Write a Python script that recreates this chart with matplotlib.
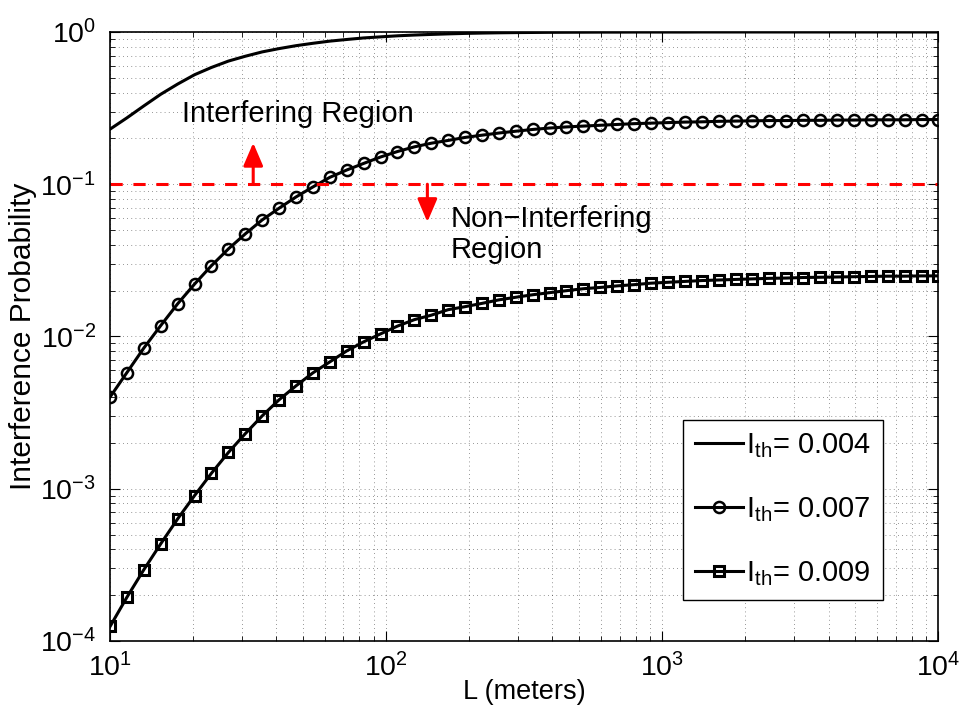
import matplotlib
matplotlib.use("Agg")
import matplotlib.pyplot as plt
import numpy as np

plt.rcParams['font.family'] = ['Liberation Sans', 'DejaVu Sans']
plt.rcParams['mathtext.fontset'] = 'custom'
plt.rcParams['mathtext.rm'] = 'Liberation Sans'
plt.rcParams['mathtext.it'] = 'Liberation Sans'

# L values (meters), 50 log-spaced points
L = np.logspace(1, 4, 50)

# I_th = 0.004
p_004 = [0.230, 0.273, 0.327, 0.390, 0.455, 0.524, 0.585, 0.644, 0.693, 0.740,
         0.778, 0.813, 0.843, 0.871, 0.893, 0.914, 0.929, 0.944, 0.955, 0.964,
         0.972, 0.979, 0.984, 0.988, 0.991, 0.993, 0.995, 0.996, 0.997, 0.998,
         0.998, 0.999, 0.999, 0.999, 0.999, 1.0, 1.0, 1.0, 1.0, 1.0,
         1.0, 1.0, 1.0, 1.0, 1.0, 1.0, 1.0, 1.0, 1.0, 1.0]
# I_th = 0.007
p_007 = [4.0e-3, 5.8e-3, 8.4e-3, 1.18e-2, 1.64e-2, 2.21e-2, 2.92e-2, 3.76e-2, 4.72e-2, 5.83e-2,
         6.96e-2, 8.25e-2, 9.6e-2, 0.111, 0.124, 0.137, 0.151, 0.164, 0.176, 0.186,
         0.194, 0.203, 0.210, 0.217, 0.223, 0.229, 0.234, 0.238, 0.241, 0.244,
         0.247, 0.250, 0.252, 0.254, 0.256, 0.257, 0.259, 0.260, 0.261, 0.262,
         0.262, 0.263, 0.263, 0.264, 0.264, 0.265, 0.265, 0.265, 0.266, 0.266]
# I_th = 0.009
p_009 = [1.245e-4, 1.94e-4, 2.94e-4, 4.35e-4, 6.34e-4, 9.02e-4, 1.265e-3, 1.73e-3, 2.30e-3, 3.01e-3,
         3.84e-3, 4.74e-3, 5.77e-3, 6.81e-3, 8.04e-3, 9.22e-3, 1.04e-2, 1.17e-2, 1.29e-2, 1.38e-2,
         1.50e-2, 1.57e-2, 1.65e-2, 1.74e-2, 1.81e-2, 1.88e-2, 1.94e-2, 2.00e-2, 2.06e-2, 2.10e-2,
         2.15e-2, 2.19e-2, 2.24e-2, 2.27e-2, 2.30e-2, 2.33e-2, 2.35e-2, 2.37e-2, 2.39e-2, 2.41e-2,
         2.42e-2, 2.44e-2, 2.45e-2, 2.46e-2, 2.47e-2, 2.48e-2, 2.49e-2, 2.49e-2, 2.50e-2, 2.50e-2]

threshold = 0.1

fig = plt.figure(figsize=(9.61, 7.19), dpi=100)
ax = fig.add_axes([0.1145, 0.1085, 0.862, 0.847])

ax.loglog(L, p_004, 'k-', lw=2.2, label=r'I$_{\rm th}$= 0.004')
ax.loglog(L, p_007, 'k-o', lw=2.2, ms=8, mfc='none', mew=1.8, label=r'I$_{\rm th}$= 0.007')
ax.loglog(L, p_009, 'k-s', lw=2.2, ms=6.5, mfc='none', mew=2.2, label=r'I$_{\rm th}$= 0.009')
ax.axhline(threshold, color='red', lw=2.2, ls=(0, (4, 3.5)))

ax.annotate('', xy=(33, 0.187), xytext=(33, threshold),
            arrowprops=dict(arrowstyle='-|>,head_width=0.3,head_length=0.7',
                            color='red', lw=2.2, mutation_scale=20, shrinkA=0, shrinkB=0))
ax.annotate('', xy=(141, 0.0565), xytext=(141, threshold),
            arrowprops=dict(arrowstyle='-|>,head_width=0.3,head_length=0.7',
                            color='red', lw=2.2, mutation_scale=20, shrinkA=0, shrinkB=0))
ax.text(18.2, 0.2576, 'Interfering Region', fontsize=21, va='baseline', ha='left')
ax.text(170.6, 0.0735, 'Non\u2212Interfering\nRegion', fontsize=21, va='top', ha='left',
        linespacing=1.15)

ax.set_xlim(10, 1e4)
ax.set_ylim(1e-4, 1)
ax.grid(True, which='both', color='black', ls=(0, (1, 4)), lw=0.6, alpha=0.55)
ax.tick_params(which='both', direction='in', top=True, right=True, labelsize=20.5)
ax.tick_params(axis='x', which='major', pad=9)
ax.tick_params(axis='y', which='major', pad=10)
ax.tick_params(which='major', length=7)
ax.tick_params(which='minor', length=3.5)
for s in ax.spines.values():
    s.set_linewidth(1.2)

ax.set_xlabel('L (meters)', fontsize=19.5, labelpad=-3)
ax.set_ylabel('Interference Probability', fontsize=21.5, labelpad=2)

leg = ax.legend(loc='lower right', bbox_to_anchor=(0.933, 0.068), fontsize=21,
                fancybox=False, edgecolor='black', framealpha=1, handlelength=1.65,
                handletextpad=0.1, labelspacing=1.2, borderpad=0.4, borderaxespad=0)
leg.get_frame().set_linewidth(1.0)

fig.savefig('out.png', dpi=100)
